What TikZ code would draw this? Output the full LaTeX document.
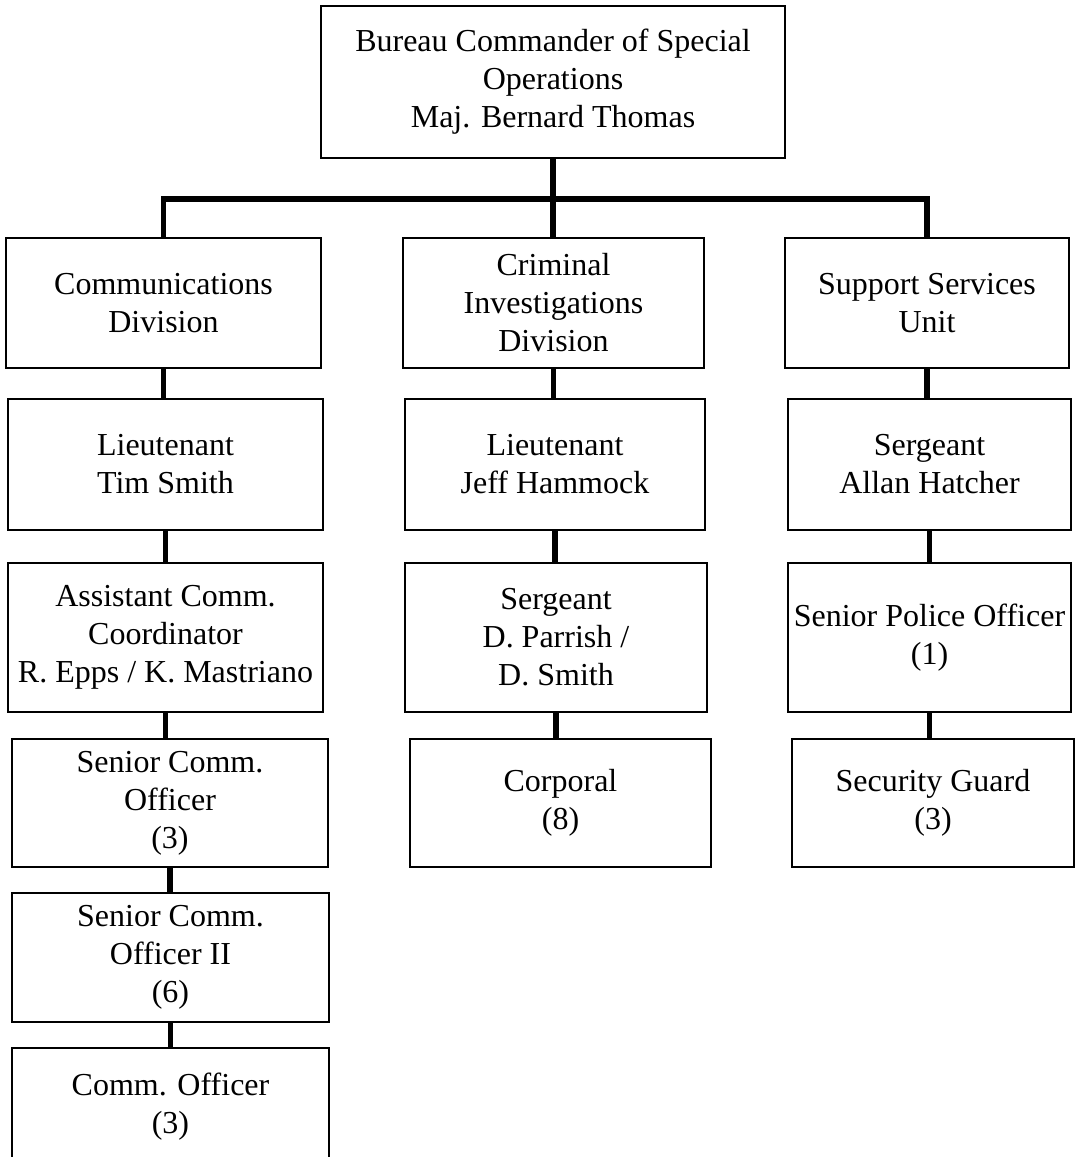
\documentclass[tikz,border=0pt]{standalone}
\usepackage{fontspec}
\setmainfont{Liberation Serif}
\usetikzlibrary{positioning}

\tikzset{
  orgbox/.style={draw, line width=1pt, align=center, inner sep=0pt,
    font=\fontsize{16}{19}\selectfont},
  link/.style={line width=2.6pt}
}

\begin{document}
\begin{tikzpicture}[x=0.5pt,y=-0.5pt]
   \useasboundingbox (0,0) rectangle (1075,1157);

   % top of the bureau
   \node[orgbox, minimum width=232pt, minimum height=76pt] (bureau) at (553,82)
     {Bureau Commander of Special\\Operations\\Maj. Bernard Thomas};
   \coordinate (bar) at (553,199);

   % divisions
   \node[orgbox, minimum width=157.5pt, minimum height=65pt] (comm) at (163.5,303)
     {Communications\\Division};
   \node[orgbox, minimum width=150.5pt, minimum height=65pt] (crim) at (553.5,303)
     {Criminal\\Investigations\\Division};
   \node[orgbox, minimum width=142pt, minimum height=65pt] (supp) at (927,303)
     {Support Services\\Unit};

   % second row
   \node[orgbox, minimum width=157.5pt, minimum height=65.5pt] (ltsmith) at (165.5,464.5)
     {Lieutenant\\Tim Smith};
   \node[orgbox, minimum width=150pt, minimum height=65.5pt] (lthammock) at (555,464.5)
     {Lieutenant\\Jeff Hammock};
   \node[orgbox, minimum width=141.5pt, minimum height=65.5pt] (sgthatcher) at (929.5,464.5)
     {Sergeant\\Allan Hatcher};

   % third row
   \node[orgbox, minimum width=157.5pt, minimum height=74.5pt] (asstcoord) at (165.5,637.5)
     {Assistant Comm.\\Coordinator\\R. Epps / K. Mastriano};
   \node[orgbox, minimum width=151pt, minimum height=74.5pt] (sgtparrish) at (556,637.5)
     {Sergeant\\D. Parrish /\\D. Smith};
   \node[orgbox, minimum width=141.5pt, minimum height=74.5pt] (srpolice) at (929.5,637.5)
     {Senior Police Officer\\(1)};

   % fourth row
   \node[orgbox, minimum width=158pt, minimum height=64pt] (srcomm) at (170,803)
     {Senior Comm.\\Officer\\(3)};
   \node[orgbox, minimum width=150.5pt, minimum height=64pt] (corporal) at (560.5,803)
     {Corporal\\(8)};
   \node[orgbox, minimum width=141pt, minimum height=64pt] (guard) at (933,803)
     {Security Guard\\(3)};

   % rest of communications
   \node[orgbox, minimum width=158.5pt, minimum height=64.5pt] (srcommii) at (170.5,957.5)
     {Senior Comm.\\Officer II\\(6)};
   \node[orgbox, minimum width=158.5pt, minimum height=59pt] (commoff) at (170.5,1107)
     {Comm. Officer\\(3)};

   % connectors
   \draw[link] (bureau.south) -- (bureau.south |- crim.north);
   \draw[link] (comm.north) -- (comm.north |- bar) -- (supp.north |- bar) -- (supp.north);

   \draw[link] (comm.south) -- (comm.south |- ltsmith.north);
   \draw[link] (ltsmith.south) -- (ltsmith.south |- asstcoord.north);
   \draw[link] (asstcoord.south) -- (asstcoord.south |- srcomm.north);
   \draw[link] (srcomm.south) -- (srcomm.south |- srcommii.north);
   \draw[link] (srcommii.south) -- (srcommii.south |- commoff.north);

   \draw[link] (crim.south) -- (crim.south |- lthammock.north);
   \draw[link] (lthammock.south) -- (lthammock.south |- sgtparrish.north);
   \draw[link] (sgtparrish.south) -- (sgtparrish.south |- corporal.north);

   \draw[link] (supp.south) -- (supp.south |- sgthatcher.north);
   \draw[link] (sgthatcher.south) -- (sgthatcher.south |- srpolice.north);
   \draw[link] (srpolice.south) -- (srpolice.south |- guard.north);
\end{tikzpicture}
\end{document}
